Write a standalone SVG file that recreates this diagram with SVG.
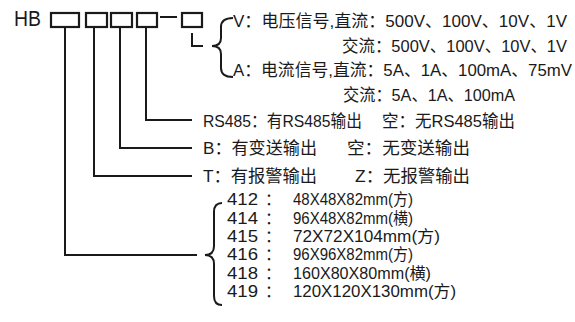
<svg xmlns="http://www.w3.org/2000/svg" width="575" height="322" viewBox="0 0 575 322">
<style>
.ln{fill:none;stroke:#1a1a1a;stroke-width:2}
.bx{fill:#fff;stroke:#1a1a1a;stroke-width:2.2}
.t{font-family:"Liberation Sans","Noto Sans CJK SC",sans-serif;font-size:17px;fill:#1a1a1a}
.d{font-family:"Liberation Sans","Noto Sans CJK SC",sans-serif;font-size:16px;fill:#1a1a1a}
.hb{font-family:"Liberation Sans","Noto Sans CJK SC",sans-serif;font-size:22px;fill:#1a1a1a}
</style>
<rect width="575" height="322" fill="#fff"/>
<g id="model">
<text class="hb" x="14" y="26" textLength="27" lengthAdjust="spacingAndGlyphs">HB</text>
<rect class="bx" x="51" y="13" width="28" height="14"/>
<rect class="bx" x="86" y="13" width="21" height="14"/>
<rect class="bx" x="111" y="13" width="21" height="14"/>
<rect class="bx" x="137" y="13" width="20" height="14"/>
<line class="ln" x1="160" y1="17" x2="177" y2="17"/>
<rect class="bx" x="182" y="13" width="20" height="14"/>
</g>
<g id="connectors">
<path class="ln" d="M192 33 V46 H203"/>
<path class="ln" d="M233 18 Q221 18 221 27 V38 Q221 46 212 46 Q221 46 221 54 V68 Q221 77 233 77"/>
<path class="ln" d="M146 27 V120 H192"/>
<path class="ln" d="M120 27 V148 H192"/>
<path class="ln" d="M94 27 V176 H192"/>
<path class="ln" d="M65 27 V255 H197"/>
<path class="ln" d="M222 203 Q214 203 214 212 V246 Q214 255 205 255 Q214 255 214 264 V296 Q214 305 222 305"/>
</g>
<g id="signal">
<text class="t" x="233" y="27" textLength="334" lengthAdjust="spacingAndGlyphs">V：电压信号,直流：500V、100V、10V、1V</text>
<text class="t" x="342" y="52" textLength="225" lengthAdjust="spacingAndGlyphs">交流：500V、100V、10V、1V</text>
<text class="t" x="233" y="76" textLength="339" lengthAdjust="spacingAndGlyphs">A：电流信号,直流：5A、1A、100mA、75mV</text>
<text class="t" x="343" y="101" textLength="172" lengthAdjust="spacingAndGlyphs">交流：5A、1A、100mA</text>
</g>
<g id="rs485">
<text class="t" x="203" y="127" textLength="159" lengthAdjust="spacingAndGlyphs">RS485：有RS485输出</text>
<text class="t" x="382" y="127" textLength="133" lengthAdjust="spacingAndGlyphs">空：无RS485输出</text>
</g>
<g id="transmit">
<text class="t" x="203" y="154" textLength="114" lengthAdjust="spacingAndGlyphs">B：有变送输出</text>
<text class="t" x="347" y="154" textLength="123" lengthAdjust="spacingAndGlyphs">空：无变送输出</text>
</g>
<g id="alarm">
<text class="t" x="203" y="182" textLength="114" lengthAdjust="spacingAndGlyphs">T：有报警输出</text>
<text class="t" x="355" y="182" textLength="115" lengthAdjust="spacingAndGlyphs">Z：无报警输出</text>
</g>
<g id="sizes">
<text class="d" x="227" y="205" textLength="31" lengthAdjust="spacingAndGlyphs">412</text><text class="d" x="265" y="205">：</text><text class="d" x="293" y="205" textLength="120" lengthAdjust="spacingAndGlyphs">48X48X82mm(方)</text>
<text class="d" x="227" y="224" textLength="31" lengthAdjust="spacingAndGlyphs">414</text><text class="d" x="265" y="224">：</text><text class="d" x="293" y="224" textLength="120" lengthAdjust="spacingAndGlyphs">96X48X82mm(横)</text>
<text class="d" x="227" y="242" textLength="31" lengthAdjust="spacingAndGlyphs">415</text><text class="d" x="265" y="242">：</text><text class="d" x="293" y="242" textLength="147" lengthAdjust="spacingAndGlyphs">72X72X104mm(方)</text>
<text class="d" x="227" y="260" textLength="31" lengthAdjust="spacingAndGlyphs">416</text><text class="d" x="265" y="260">：</text><text class="d" x="293" y="260" textLength="120" lengthAdjust="spacingAndGlyphs">96X96X82mm(方)</text>
<text class="d" x="227" y="279" textLength="31" lengthAdjust="spacingAndGlyphs">418</text><text class="d" x="265" y="279">：</text><text class="d" x="293" y="279" textLength="138" lengthAdjust="spacingAndGlyphs">160X80X80mm(横)</text>
<text class="d" x="227" y="297" textLength="31" lengthAdjust="spacingAndGlyphs">419</text><text class="d" x="265" y="297">：</text><text class="d" x="293" y="297" textLength="163" lengthAdjust="spacingAndGlyphs">120X120X130mm(方)</text>
</g>
</svg>
